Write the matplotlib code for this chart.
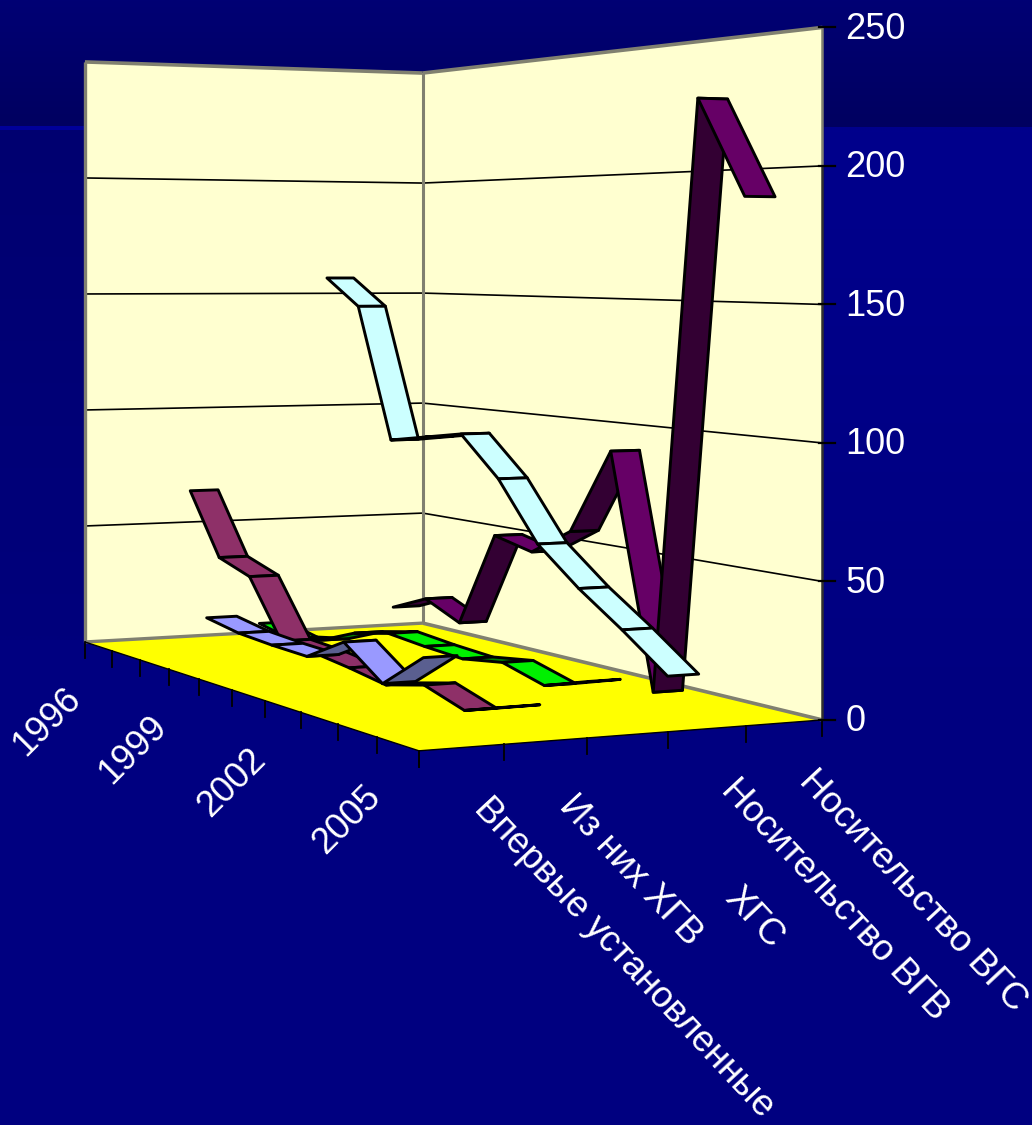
#!/usr/bin/env python3
"""
Hepatitis case counts by year and category, drawn as a 3D ribbon chart on a slide background.
"""

import matplotlib

matplotlib.use("Agg")
import matplotlib.pyplot as plt
import numpy as np
from matplotlib.colors import to_rgb
from matplotlib.patches import Polygon, Rectangle


plt.rcParams["font.family"] = ["Liberation Sans", "DejaVu Sans"]

nan = float("nan")

years = [1996, 1997, 1998, 1999, 2000, 2001, 2002, 2003, 2004, 2005]
year_labels = [1996, 1999, 2002, 2005]
categories = [
    "Впервые установленные",
    "Из них ХГВ",
    "ХГС",
    "Носительство ВГВ",
    "Носительство ВГС",
]
value_ticks = [0, 50, 100, 150, 200, 250]

new_cases = [nan, nan, nan, 22, 19.5, 18.5, 18, 27, 16, 29]
chronic_b = [65, 39, 34, 11, 10, 8, 5.5, 9.5, 4.5, 10]
chronic_c = [6, 3, 6, 12.5, 16, 14.5, 13.5, 16, 11.5, 17]
carrier_b = [157, 145, 89, 92, 95, 79, 56, 42, 30, 17]
carrier_c = [10, 17, 10, 50, 46, 57, 91, 1, 226, 189]

series = [new_cases, chronic_b, chronic_c, carrier_b, carrier_c]
light = ["#9999FF", "#8E3068", "#00F000", "#CCFFFF", "#660066"]
dark = ["#5A5F90", "#662244", "#008000", "#668080", "#330033"]

# camera matrix: (year slot, series slot, value, 1) -> homogeneous pixel position
CAMERA = np.array([
    [10.48, 31.1, 0.0, 36.6],
    [-2.33, 1.3, -1.0, 276.7],
    [-0.00935, 0.0047, 0.0, 0.431],
])
N_X = len(years)
N_Y = len(categories)
RIBBON = 0.2  # half width of a ribbon in series slots


def project(x, y, z):
    p = CAMERA @ np.array([x, y, z, 1.0])
    return p[0] / p[2], p[1] / p[2]


def face(ax, corners, color, z, **kw):
    pts = [project(*c) for c in corners]
    ax.add_patch(Polygon(pts, closed=True, facecolor=color, zorder=z, **kw))


def line3d(ax, a, b, color, lw, z=3):
    pa, pb = project(*a), project(*b)
    ax.plot([pa[0], pb[0]], [pa[1], pb[1]], color=color, lw=lw, zorder=z,
            solid_capstyle="butt")


def band(ax, x0, x1, y0, y1, c0, c1):
    # vertical colour ramp for the slide background
    t = np.linspace(0, 1, 64)[:, None, None]
    img = (1 - t) * np.array(to_rgb(c0)) + t * np.array(to_rgb(c1))
    ax.imshow(img, extent=(x0, x1, y1, y0), aspect="auto", zorder=0.1,
              interpolation="bilinear")


def main():
    fig = plt.figure(figsize=(10.32, 11.25), dpi=100)
    ax = fig.add_axes([0, 0, 1, 1])
    ax.axis("off")

    # slide background with the darker title band
    ax.add_patch(Rectangle((0, 0), 1032, 1125, facecolor="#000080", zorder=0))
    band(ax, 0, 1032, 0, 127, "#000074", "#000060")
    band(ax, 0, 90, 127, 640, "#000070", "#00007C")
    band(ax, 825, 1032, 127, 720, "#00008C", "#000080")
    ax.add_patch(Rectangle((0, 126), 90, 4, facecolor="#000099", zorder=0.2))
    ax.set_xlim(0, 1032)
    ax.set_ylim(1125, 0)

    top = value_ticks[-1]
    face(ax, [(0, 0, 0), (0, N_Y, 0), (0, N_Y, top), (0, 0, top)], "#FFFFD0", 1)
    face(ax, [(0, N_Y, 0), (N_X, N_Y, 0), (N_X, N_Y, top), (0, N_Y, top)], "#FFFFD0", 1)
    face(ax, [(0, 0, 0), (N_X, 0, 0), (N_X, N_Y, 0), (0, N_Y, 0)], "#FFFF00", 1)

    for v in value_ticks[1:-1]:
        line3d(ax, (0, 0, v), (0, N_Y, v), "black", 1.2)
        line3d(ax, (0, N_Y, v), (N_X, N_Y, v), "black", 1.2)

    # wall outlines
    gray = "#808070"
    line3d(ax, (0, 0, top), (0, N_Y, top), gray, 2.6)
    line3d(ax, (0, N_Y, top), (N_X, N_Y, top), gray, 2.6)
    line3d(ax, (0, 0, 0), (0, 0, top), gray, 2.4)
    line3d(ax, (0, N_Y, 0), (0, N_Y, top), gray, 2.2)
    line3d(ax, (0, 0, 0), (0, N_Y, 0), gray, 2.4)
    line3d(ax, (0, N_Y, 0), (N_X, N_Y, 0), gray, 2.6)
    line3d(ax, (N_X, N_Y, 200), (N_X, N_Y, top), gray, 1.8)
    line3d(ax, (N_X, N_Y, 0), (N_X, N_Y, 200), "#303030", 1.8)
    line3d(ax, (0, 0, 0), (N_X, 0, 0), "black", 1.0)
    line3d(ax, (N_X, 0, 0), (N_X, N_Y, 0), "black", 1.0)

    # ribbons, back series first and near segments last
    z = 5.0
    for i in range(N_Y - 1, -1, -1):
        vals = series[i]
        y0, y1 = i + 0.5 - RIBBON, i + 0.5 + RIBBON
        for k in range(N_X - 1):
            v0, v1 = vals[k], vals[k + 1]
            if np.isnan(v0) or np.isnan(v1):
                continue
            color = dark[i] if v1 > v0 else light[i]
            corners = [
                (k + 0.5, y0, v0),
                (k + 1.5, y0, v1),
                (k + 1.5, y1, v1),
                (k + 0.5, y1, v0),
            ]
            face(ax, corners, color, z, edgecolor="black", linewidth=2.1,
                 joinstyle="round")
            z += 0.01

    # value axis
    for v in value_ticks:
        px, py = project(N_X, N_Y, v)
        ax.plot([px - 3, px + 13], [py, py], color="black", lw=1.6, zorder=4)
        ax.text(px + 23, py + 2, str(v), color="white", fontsize=26,
                ha="left", va="center", zorder=10)

    # floor ticks
    for k in range(N_X + 1):
        px, py = project(k, 0, 0)
        ax.plot([px, px], [py, py + 16], color="black", lw=1.3, zorder=4)
    for i in range(N_Y + 1):
        px, py = project(N_X, i, 0)
        ax.plot([px, px], [py, py + 16], color="black", lw=1.3, zorder=4)

    for year in year_labels:
        px, py = project(years.index(year) + 0.5, 0, 0)
        ax.text(px - 51, py + 76, str(year), color="white", fontsize=26,
                rotation=45, ha="center", va="center", rotation_mode="anchor",
                zorder=10)

    label_offsets = [(18, 56), (19, 59), (103, 158), (20, 56), (20, 53)]
    for i, name in enumerate(categories):
        px, py = project(N_X, i + 0.5, 0)
        dx, dy = label_offsets[i]
        ax.text(px + dx, py + dy, name, color="white", fontsize=26.5,
                rotation=-47, ha="left", va="center", rotation_mode="anchor",
                zorder=10)

    fig.savefig("out.png", dpi=100, facecolor="#000080")


if __name__ == "__main__":
    main()
